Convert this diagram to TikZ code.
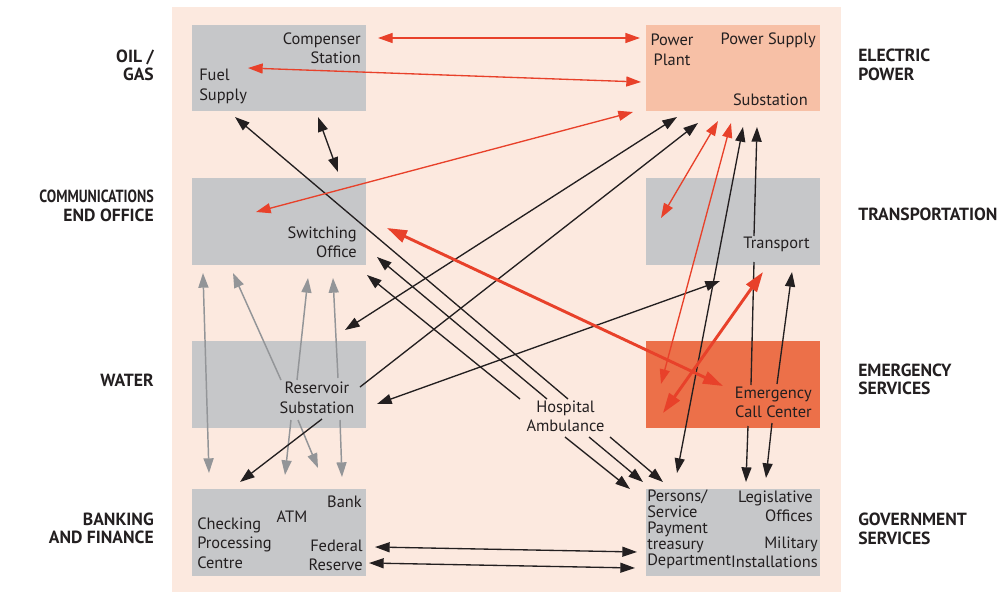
\documentclass[tikz,border=0pt]{standalone}
\usepackage{fontspec}
\setmainfont{PT Sans}
\usetikzlibrary{arrows.meta}
\definecolor{bgpeach}{HTML}{FCE9DF}
\definecolor{boxgrey}{HTML}{C6C7C9}
\definecolor{powerpink}{HTML}{F7C0A6}
\definecolor{emerorange}{HTML}{EC7049}
\definecolor{arrred}{HTML}{E8412A}
\definecolor{arrblack}{HTML}{231F20}
\definecolor{arrgrey}{HTML}{939598}
\tikzset{
  sector/.style={fill=boxgrey, minimum width=130.5pt, minimum height=65pt, inner sep=0pt},
  txt/.style={inner sep=0pt, text=arrblack, font=\fontsize{12.3}{14.6}\selectfont},
  tight/.style={font=\fontsize{12.3}{12}\selectfont},
  side/.style={inner sep=0pt, text=arrblack, font=\fontsize{13.2}{14}\selectfont\bfseries},
  thin/.style={line width=1pt, >={Triangle[length=11pt,width=7.5pt]}},
  thick/.style={line width=2.2pt, >={Triangle[length=15pt,width=9.5pt]}},
}
\begin{document}
\begin{tikzpicture}[x=0.75pt,y=-0.75pt]
  \useasboundingbox (0,0) rectangle (1008,593);
  \fill[bgpeach] (172,7) rectangle (841,592);
  \node[sector] (oil) at (279,68) {};
  \node[sector] (comm) at (279,221.5) {};
  \node[sector] (water) at (279,384.5) {};
  \node[sector] (bank) at (279,532.5) {};
  \node[sector, fill=powerpink] (power) at (733,68) {};
  \node[sector] (trans) at (733,221.5) {};
  \node[sector, fill=emerorange] (emer) at (733,384.5) {};
  \node[sector] (gov) at (733,532.5) {};
  \node[side, anchor=east, align=right] (oillbl) at (154,65.5) {OIL /\\GAS};
  \node[side, anchor=east, align=right] (commlbl) at (154,206) {\scalebox{0.8}[1]{COMMUNICATIONS}\\END OFFICE};
  \node[side, anchor=east, align=right] (waterlbl) at (154,380) {WATER};
  \node[side, anchor=east, align=right] (banklbl) at (154,528.5) {BANKING\\AND FINANCE};
  \node[side, anchor=west, align=left] (powerlbl) at (858,65) {ELECTRIC\\POWER};
  \node[side, anchor=west, align=left] (translbl) at (858,214) {TRANSPORTATION};
  \node[side, anchor=west, align=left] (emerlbl) at (858,379.5) {EMERGENCY\\SERVICES};
  \node[side, anchor=west, align=left] (govlbl) at (858,529) {GOVERNMENT\\SERVICES};
  \node[txt, anchor=east, align=right] (comp) at (361,48) {Compenser\\Station};
  \node[txt, anchor=west, align=left] (fuel) at (199,86.5) {Fuel\\Supply};
  \node[txt, anchor=east, align=right] (switch) at (357,242.5) {Switching\\Office};
  \node[txt, align=center] (res) at (317,398) {Reservoir\\Substation};
  \node[txt, anchor=east] (bnk) at (362,502) {Bank};
  \node[txt] (atm) at (292,517) {ATM};
  \node[txt, anchor=west, align=left] (check) at (197,543) {Checking\\Processing\\Centre};
  \node[txt, anchor=east, align=right] (fed) at (363,555.5) {Federal\\Reserve};
  \node[txt, align=center] (plant) at (672,50) {Power\\Plant};
  \node[txt, anchor=east] (psup) at (816,40) {Power Supply};
  \node[txt, anchor=east] (subst) at (808,100) {Substation};
  \node[txt, anchor=east] (transp) at (810,244) {Transport};
  \node[txt, anchor=east, align=right] (call) at (812,402.5) {Emergency\\Call Center};
  \node[txt, tight, anchor=west, align=left] (pers) at (647,529.5) {Persons/\\Service\\Payment\\treasury\\Department};
  \node[txt, anchor=east, align=right] (legis) at (813,506.5) {Legislative\\Offices};
  \node[txt, anchor=east, align=right] (mil) at (818,552.5) {Military\\Installations};
  \node[txt, align=center] (hosp) at (565.5,416.5) {Hospital\\Ambulance};
  \path
    (378,38) coordinate (r1a) (640,38) coordinate (r1b)
    (248,68) coordinate (r2a) (641,82) coordinate (r2b)
    (256,212) coordinate (r3a) (633,112) coordinate (r3b)
    (661,218) coordinate (r4a) (718,121) coordinate (r4b)
    (661,384) coordinate (r5a) (731,123) coordinate (r5b)
    (387,228) coordinate (r6a) (723,386) coordinate (r6b)
    (663,413) coordinate (r7a) (763,272) coordinate (r7b);
  \path
    (318,117) coordinate (b1a) (338,172) coordinate (b1b)
    (568,399) coordinate (b2a) (235,117) coordinate (b2b)
    (547,399) coordinate (b3a) (377,257) coordinate (b3b)
    (520,399) coordinate (b4a) (367,275) coordinate (b4b)
    (345,330) coordinate (b5a) (677,117) coordinate (b5b)
    (360,387) coordinate (b6a) (698,123) coordinate (b6b)
    (377,404) coordinate (b7a) (720,281) coordinate (b7b)
    (677,473) coordinate (b8a) (743,127) coordinate (b8b)
    (754,236) coordinate (b9a) (757,127) coordinate (b9b)
    (754,262) coordinate (b9c) (751,385) coordinate (b9d)
    (748,426) coordinate (b9e) (746,482) coordinate (b9f)
    (777,384) coordinate (b10a) (792,272) coordinate (b10b)
    (772,423) coordinate (b10c) (766,478) coordinate (b10d)
    (322,419) coordinate (b11a) (240,482) coordinate (b11b)
    (565,437) coordinate (h1a) (630,489) coordinate (h1b)
    (589,437) coordinate (h2a) (643,482) coordinate (h2b)
    (610,437) coordinate (h3a) (663,482) coordinate (h3b)
    (375,547) coordinate (f1a) (637,552) coordinate (f1b)
    (369,563) coordinate (f2a) (635,568) coordinate (f2b);
  \path
    (203,273) coordinate (g1a) (209,473) coordinate (g1b)
    (281,380) coordinate (g2a) (233,273) coordinate (g2b)
    (297,380) coordinate (g3a) (308,278) coordinate (g3b)
    (338,378) coordinate (g4a) (333,278) coordinate (g4b)
    (291,420) coordinate (g5a) (285,475) coordinate (g5b)
    (298,420) coordinate (g6a) (318,468) coordinate (g6b)
    (340,420) coordinate (g7a) (342,477) coordinate (g7b);
  \begin{scope}[thin, draw=arrgrey, line width=1.1pt]
    \draw[<->] (g1a) to (g1b);
    \draw[->] (g2a) to (g2b);
    \draw[->] (g3a) to (g3b);
    \draw[->] (g4a) to (g4b);
    \draw[->] (g5a) to (g5b);
    \draw[->] (g6a) to (g6b);
    \draw[->] (g7a) to (g7b);
  \end{scope}
  \begin{scope}[thin, draw=arrblack]
    \draw[<->] (b1a) to (b1b);
    \draw[->] (b2a) to (b2b);
    \draw[->] (b3a) to (b3b);
    \draw[->] (b4a) to (b4b);
    \draw[<->] (b5a) to (b5b);
    \draw[->] (b6a) to (b6b);
    \draw[<->] (b7a) to (b7b);
    \draw[<->] (b8a) to (b8b);
    \draw[->] (b9a) to (b9b);
    \draw (b9c) to (b9d);
    \draw[->] (b9e) to (b9f);
    \draw[->] (b10a) to (b10b);
    \draw[->] (b10c) to (b10d);
    \draw[->] (b11a) to (b11b);
    \draw[->] (h1a) to (h1b);
    \draw[->] (h2a) to (h2b);
    \draw[->] (h3a) to (h3b);
    \draw[<->] (f1a) to (f1b);
    \draw[<->] (f2a) to (f2b);
  \end{scope}
  \begin{scope}[thin, draw=arrred]
    \draw[<->] (r1a) to (r1b);
    \draw[<->] (r2a) to (r2b);
    \draw[<->] (r3a) to (r3b);
    \draw[<->] (r4a) to (r4b);
    \draw[<->] (r5a) to (r5b);
  \end{scope}
  \begin{scope}[thick, draw=arrred]
    \draw[<->] (r6a) to (r6b);
    \draw[<->] (r7a) to (r7b);
  \end{scope}
\end{tikzpicture}
\end{document}
